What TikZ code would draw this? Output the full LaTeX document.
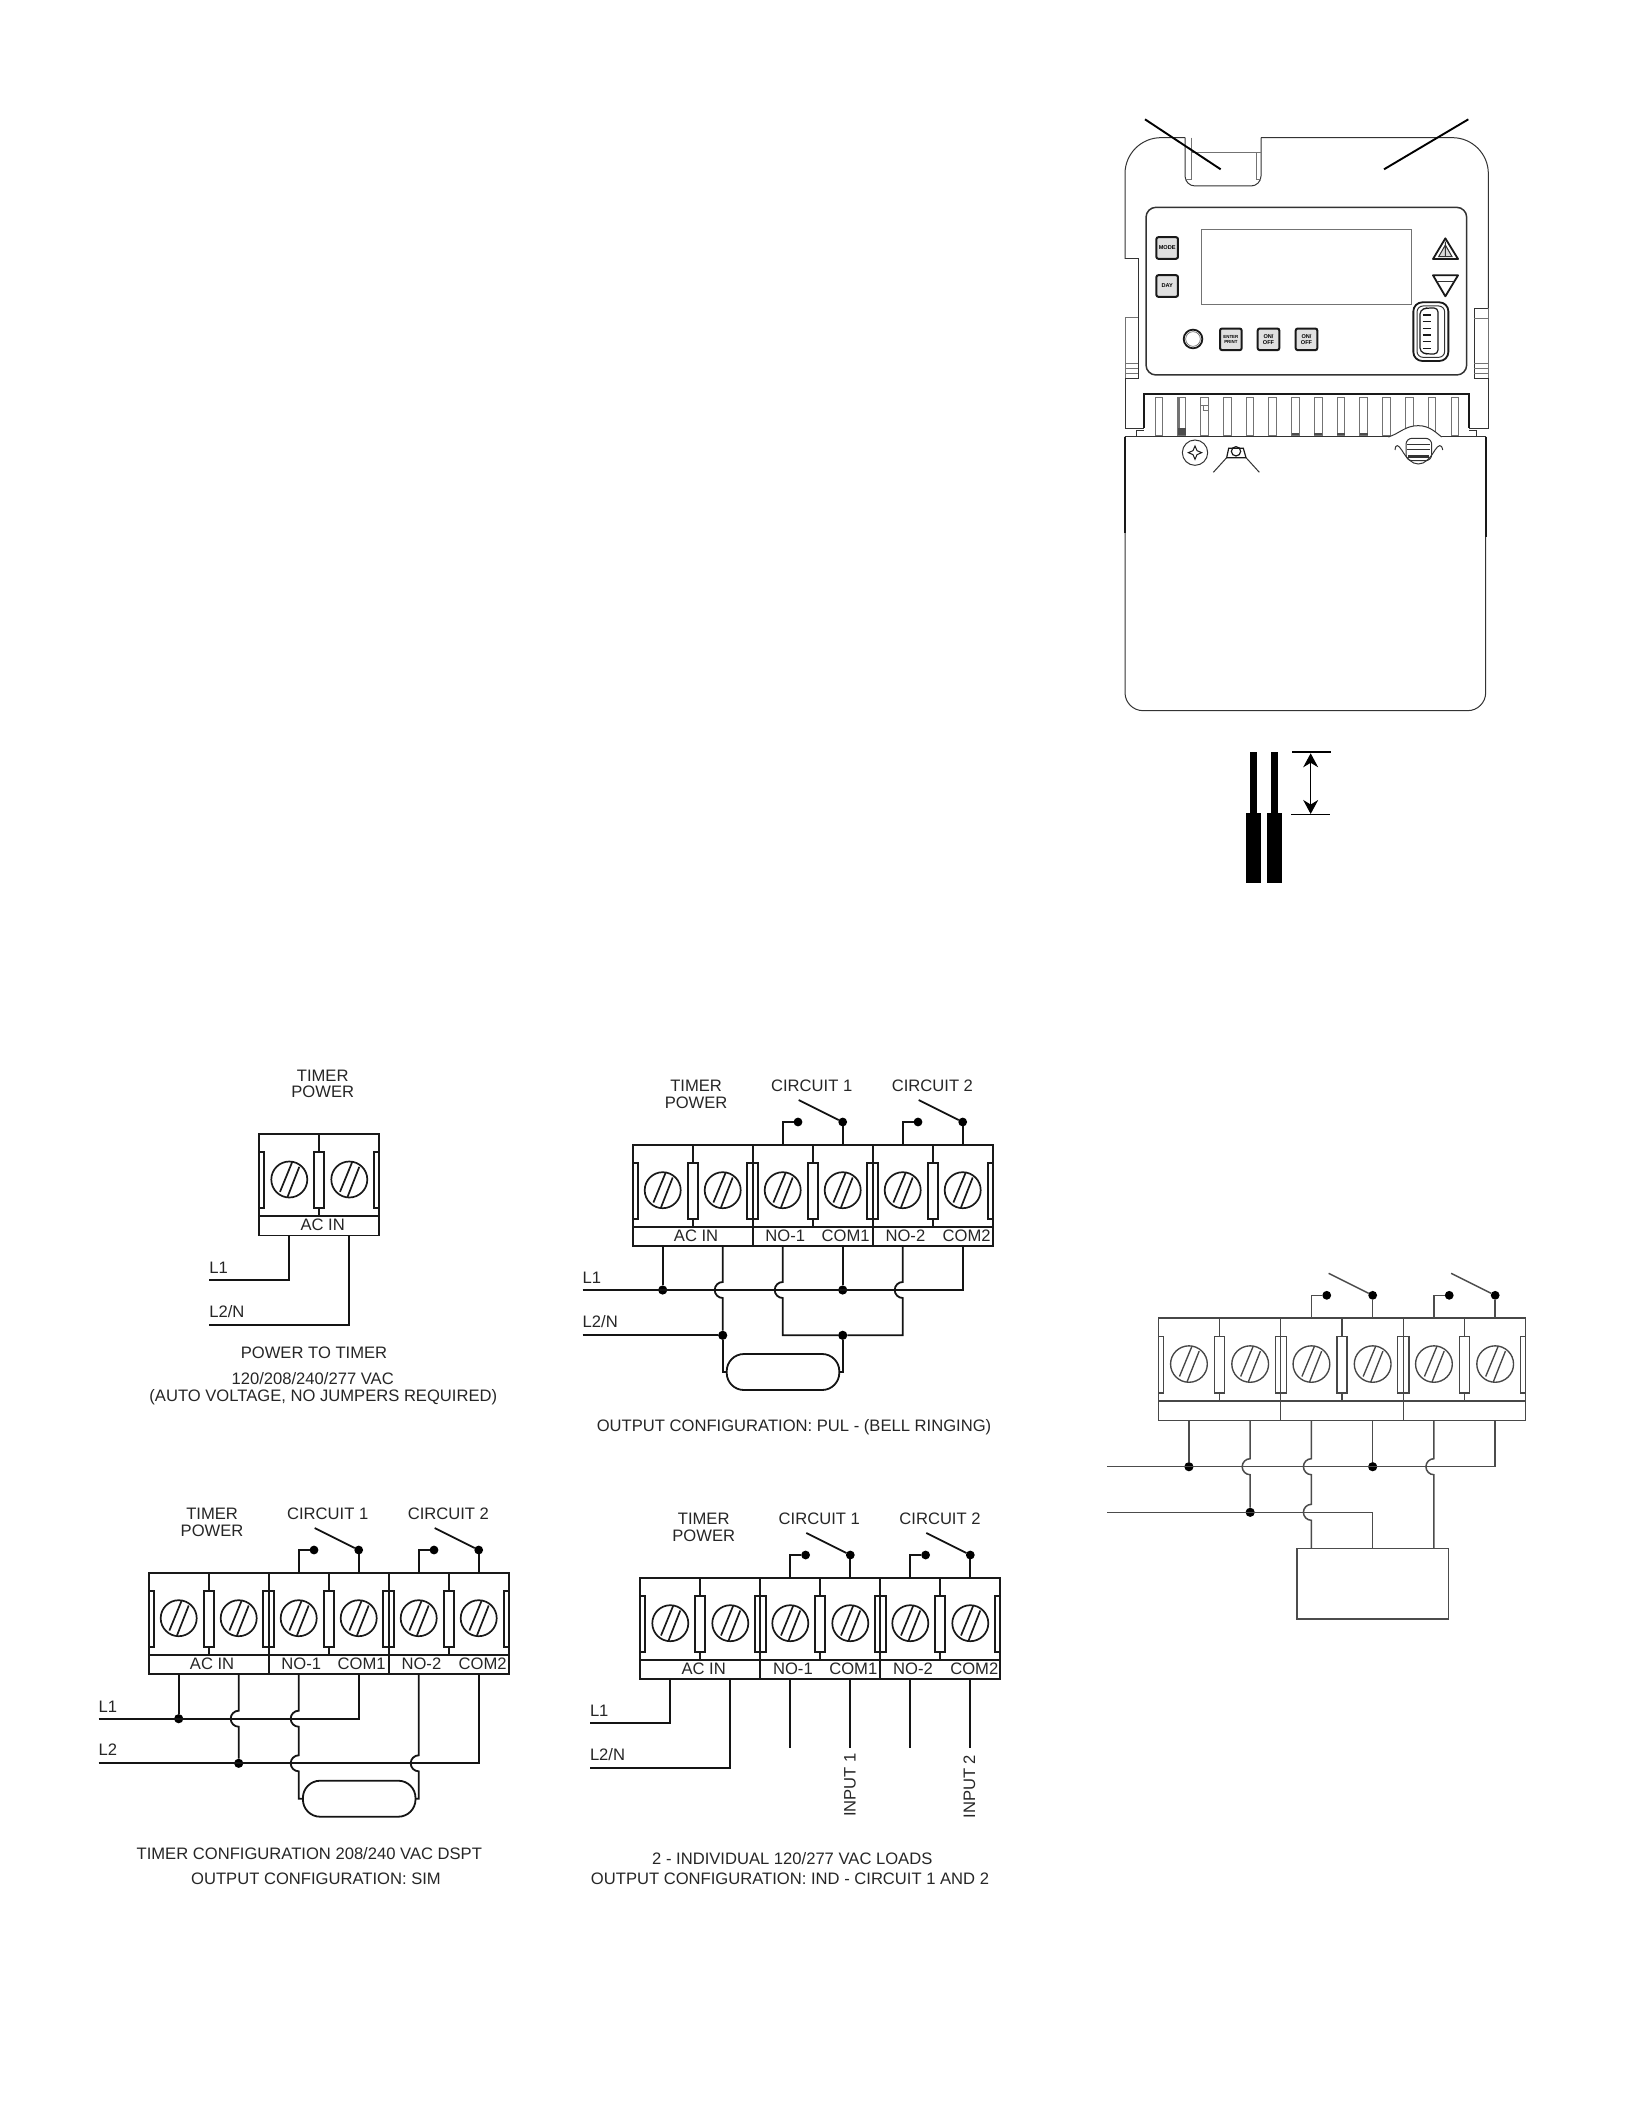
\documentclass[tikz,border=0pt]{standalone}
\usepackage{fontspec}
\setmainfont{Liberation Sans}
\usetikzlibrary{arrows.meta}
\tikzset{
  x=0.5pt,y=-0.5pt,
  lab/.style={inner sep=0pt,outer sep=0pt,text=black!85,font=\fontsize{8.3}{8.35}\selectfont,align=center},
  blk/.style={draw=black!90,line width=0.85pt},
  blkgrey/.style={draw=black!72,line width=0.68pt},
  wire/.style={draw=black!92,line width=0.9pt},
  wiregrey/.style={draw=black!70,line width=0.75pt},
  jdot/.style={circle,fill=black,draw=none,minimum size=4.6pt,inner sep=0pt,outer sep=0pt},
  sdot/.style={circle,fill=black,draw=none,minimum size=4.4pt,inner sep=0pt,outer sep=0pt},
  loadoval/.style={draw=black!92,line width=0.9pt,rounded corners=8.6pt,minimum width=56.3pt,minimum height=18pt,inner sep=0pt,outer sep=0pt},
  hop/.style={insert path={-- ([yshift=4pt]#1) arc[start angle=90,delta angle=180,radius=4pt]}},
  dev/.style={draw=black!80,line width=0.5pt},
  devthin/.style={draw=black!55,line width=0.35pt},
  devthick/.style={draw=black!90,line width=0.9pt},
  leader/.style={draw=black,line width=0.95pt},
  btn/.style={draw=black!90,line width=1pt,fill=black!12,rounded corners=1pt,minimum size=10.8pt,inner sep=0pt,align=center,font=\fontsize{2.8}{2.9}\selectfont\bfseries,text=black},
}
\newcommand\tblock[6]{%
\begin{scope}[shift={(#2,#3)},#5,every path/.append style={#6}]
  \pgfmathsetmacro\bw{120*#4}
  \draw (0,0) rectangle (\bw,101.5);
  \draw (0,82) -- (\bw,82);
  \draw (0,18) rectangle (5,74);
  \draw (\bw-5,18) rectangle (\bw,74);
  \foreach \m in {1,...,#4} {
    \pgfmathsetmacro\mx{120*(\m-1)}
    \pgfmathtruncatemacro\ka{2*\m-1}
    \pgfmathtruncatemacro\kb{2*\m}
    \draw (\mx+60,0) -- (\mx+60,18);
    \draw (\mx+60,74) -- (\mx+60,82);
    \draw (\mx+55,18) rectangle (\mx+65,74);
    \foreach \off/\kk in {30/\ka,90/\kb} {
      \draw (\mx+\off,45.5) circle (18);
      \draw (\mx+\off-9.3,57.8) -- (\mx+\off+3,27.8);
      \draw (\mx+\off-2,63.5) -- (\mx+\off+10,32.8);
      \coordinate (#1-t\kk) at (\mx+\off,101.5);
      \coordinate (#1-u\kk) at (\mx+\off,0);
    }
    \ifnum\m>1
      \draw (\mx,0) -- (\mx,101.5);
      \draw (\mx-5.5,18) rectangle (\mx+5.5,74);
    \fi
  }
\end{scope}}
% switch: name, module number, NO index, COM index
\newcommand\swpair[5]{%
  \node[sdot] (#1-nd#2) at ([shift={(15.3,-22.7)}]#1-u#3) {};
  \node[sdot] (#1-cd#2) at ([shift={(0,-22.7)}]#1-u#4) {};
  \coordinate (#1-arm#2) at ([shift={(-44,-22)}]#1-cd#2);
  \draw[#5] (#1-u#3) |- (#1-nd#2);
  \draw[#5] (#1-u#4) -- (#1-cd#2);
  \draw[#5] (#1-cd#2) -- (#1-arm#2);
}
\newcommand\blabelsfull[3]{%
  \node[lab] (#1-tp) at (#2+63.4,#3-50) {TIMER\\POWER};
  \node[lab] (#1-c1) at (#2+179,#3-59) {CIRCUIT 1};
  \node[lab] (#1-c2) at (#2+299.7,#3-59) {CIRCUIT 2};
  \node[lab] (#1-ac) at (#2+63.4,#3+91) {AC IN};
  \node[lab] (#1-no1) at (#2+152.6,#3+91) {NO-1};
  \node[lab] (#1-com1) at (#2+213,#3+91) {COM1};
  \node[lab] (#1-no2) at (#2+272.7,#3+91) {NO-2};
  \node[lab] (#1-com2) at (#2+334,#3+91) {COM2};
}
\begin{document}
\begin{tikzpicture}
\useasboundingbox (0,0) rectangle (1632,2112);
\fill[white] (0,0) rectangle (1632,2112);

%%%%%%%%%%%%%%%% timer device
\begin{scope}[shift={(1090,100)},scale=1/3]
  % body outline
  \draw[dev,rounded corners=18pt] (105,477) -- (105,113) -- (285,113);
  \draw[dev,rounded corners=18pt] (513,113) -- (1195,113) -- (1195,625);
  \draw[dev] (105,477) -- (145,477) -- (145,835) -- (105,835) -- (105,985) -- (162,985);
  \draw[dev] (1195,625) -- (1153,625) -- (1153,835) -- (1195,835) -- (1195,985) -- (1138,985);
  \draw[devthin] (105,652) -- (145,652) (105,652) -- (105,835) (105,790) -- (145,790) (105,805) -- (145,805) (105,820) -- (145,820);
  \draw[devthin] (1153,655) -- (1195,655) (1195,625) -- (1195,835) (1153,790) -- (1195,790) (1153,805) -- (1195,805) (1153,820) -- (1195,820);
  % top notch
  \draw[dev,rounded corners=5pt] (285,113) -- (285,258) -- (513,258) -- (513,113);
  \draw[devthin] (303,113) -- (303,157) -- (513,157);
  \draw[devthin] (498,157) -- (498,237) -- (513,237);
  \draw[devthin] (285,237) -- (303,237) -- (303,157);
  % face panel
  \draw[dev,line width=0.75pt,rounded corners=5pt] (168,322) rectangle (1130,825);
  \draw[devthin] (335,388) rectangle (963,613);
  \node[btn] (bmode) at (231.5,444) {MODE};
  \node[btn] (bday) at (231.5,558) {DAY};
  \node[btn,font=\fontsize{2.2}{2.4}\selectfont\bfseries] (benter) at (422.5,718) {ENTER\\PRINT};
  \node[btn] (bon1) at (535.5,718) {ON/\\OFF};
  \node[btn] (bon2) at (649.5,718) {ON/\\OFF};
  \draw[devthick] (309,717) circle (28);
  \draw[devthin] (309,717) circle (22);
  % arrows
  \draw[devthick,line join=round] (1066,415) -- (1104,477) -- (1029,477) -- cycle;
  \fill[black!15] (1066,435) -- (1086,470) -- (1046,470) -- cycle;
  \draw[dev] (1066,435) -- (1086,470) -- (1046,470) -- cycle (1066,425) -- (1066,470);
  \draw[devthick,line join=round] (1029,526) -- (1104,526) -- (1066,589) -- cycle;
  \draw[dev] (1042,545) -- (1090,545);
  % port
  \draw[devthick,rounded corners=4.5pt] (970,607) rectangle (1075,783);
  \draw[dev,rounded corners=3pt] (981,618) rectangle (1064,772);
  \draw[devthick,line width=0.6pt,rounded corners=2pt] (990,630) -- (1010,624) -- (1044,624) -- (1044,762) -- (1010,762) -- (990,756) -- cycle;
  \foreach \yy in {645,665,685,705,725,745} \draw[devthick,line width=0.6pt] (998,\yy) -- (1022,\yy);
  % terminal window
  \draw[devthick] (162,985) -- (162,882) -- (1138,882) -- (1138,985);
  \draw[dev] (140,1008) -- (140,993) -- (162,993) (1138,993) -- (1160,993) -- (1160,1008);
  \foreach \i in {0,...,13} {
    \draw[devthin,line width=0.45pt] (195+68.3*\i,892) rectangle (218+68.3*\i,1005);
  }
  \fill[black!55] (265,892) rectangle (271,1005);
  \fill[black!70] (265,985) rectangle (287,1005);
  \draw[devthin] (332,917) -- (353,917) (340,917) -- (340,930) -- (353,930);
  \foreach \i in {6,7,8,9} \fill[black!70] (195+68.3*\i,998) rectangle (218+68.3*\i,1005);
  % cover
  \draw[dev] (105,1010) -- (1187,1010);
  \draw[dev,rounded corners=9pt] (105,1010) -- (105,1832) -- (1187,1832) -- (1187,1010);
  \draw[devthick] (105,1010) -- (105,1300);
  \draw[devthick] (1187,1010) -- (1187,1310);
  % screw
  \draw[dev] (315,1058) circle (38);
  \draw[devthick,line width=0.5pt] (315,1038) -- (321,1052) -- (335,1058) -- (321,1064) -- (315,1078) -- (309,1064) -- (295,1058) -- (309,1052) -- cycle;
  % clip
  \draw[devthick,line width=0.6pt,fill=white] (410,1073) -- (416,1045) -- (460,1045) -- (468,1073) -- cycle;
  \draw[devthick,line width=0.6pt] (438,1054) circle (14);
  \draw[dev] (370,1117) -- (410,1073) (508,1117) -- (468,1073);
  % latch
  \draw[dev,fill=white] (895,1011) .. controls (930,1000) and (945,977) .. (985,977) .. controls (1020,977) and (1040,1000) .. (1055,1011);
  \draw[dev] (915,1050) .. controls (917,1030) and (925,1035) .. (935,1050) .. controls (950,1075) and (965,1092) .. (985,1092) .. controls (1005,1092) and (1020,1075) .. (1035,1050) .. controls (1045,1035) and (1055,1030) .. (1058,1050);
  \draw[dev,rounded corners=3pt] (948,1015) rectangle (1025,1082);
  \draw[dev] (952,1035) -- (1020,1035) (952,1048) -- (1020,1048);
  \fill[black!80] (955,1064) rectangle (1018,1074);
  % leaders
  \coordinate (lead-a1) at (165,58); \coordinate (lead-a2) at (392,208);
  \coordinate (lead-b1) at (1135,58); \coordinate (lead-b2) at (882,208);
  \draw[leader] (lead-a1) -- (lead-a2);
  \draw[leader] (lead-b1) -- (lead-b2);
  % stripped wires
  \fill[black] (480,1955) rectangle (500,2140);
  \fill[black] (544,1955) rectangle (564,2140);
  \fill[black] (468,2140) rectangle (512,2350);
  \fill[black] (532,2140) rectangle (576,2350);
  \coordinate (dim-a1) at (607,1955); \coordinate (dim-a2) at (724,1955);
  \coordinate (dim-b1) at (604,2144); \coordinate (dim-b2) at (720,2144);
  \draw[black,line width=1pt] (dim-a1) -- (dim-a2);
  \draw[black,line width=0.5pt] (dim-b1) -- (dim-b2);
  \coordinate (dim-t) at (662,1960); \coordinate (dim-u) at (662,2142);
  \draw[black,line width=0.5pt,{Stealth[length=7pt,width=7.5pt]}-{Stealth[length=7pt,width=7.5pt]}] (dim-t) -- (dim-u);
\end{scope}

%%%%%%%%%%%%%%%% power to timer
\tblock{pw}{259.3}{1134}{1}{xscale=1,yscale=1}{blk}
\node[lab] (pw-tp) at (322.7,1084) {TIMER\\POWER};
\node[lab] (pw-ac) at (322.7,1225) {AC IN};
\coordinate (pw-L1) at (209.3,1280);
\coordinate (pw-L2) at (209.3,1325);
\node[lab,anchor=west] (pw-l1t) at ([yshift=6.2pt]pw-L1) {L1};
\node[lab,anchor=west] (pw-l2t) at ([yshift=6.8pt]pw-L2) {L2/N};
\draw[wire] (pw-L1) -| (pw-t1);
\draw[wire] (pw-L2) -| (pw-t2);
\node[lab] (pw-cap1) at (314,1352.7) {POWER TO TIMER};
\node[lab] (pw-cap2) at (312.7,1379) {120/208/240/277 VAC};
\node[lab] (pw-cap3) at (323.3,1397.3) {(AUTO VOLTAGE, NO JUMPERS REQUIRED)};

%%%%%%%%%%%%%%%% PUL
\tblock{pu}{632.7}{1144.7}{3}{xscale=1,yscale=1}{blk}
\blabelsfull{pu}{632.7}{1144.7}
\swpair{pu}{1}{3}{4}{wire}
\swpair{pu}{2}{5}{6}{wire}
\coordinate (pu-L1) at (582.7,1290);
\coordinate (pu-L2) at (582.7,1335.3);
\node[lab,anchor=west] (pu-l1t) at ([yshift=6.2pt]pu-L1) {L1};
\node[lab,anchor=west] (pu-l2t) at ([yshift=6.8pt]pu-L2) {L2/N};
\node[jdot] (pu-j1) at (pu-t1 |- pu-L1) {};
\node[jdot] (pu-j2) at (pu-t4 |- pu-L1) {};
\node[jdot] (pu-j3) at (pu-t2 |- pu-L2) {};
\node[jdot] (pu-j4) at (pu-t4 |- pu-L2) {};
\coordinate (pu-h1) at (pu-t2 |- pu-L1);
\coordinate (pu-h2) at (pu-t3 |- pu-L1);
\coordinate (pu-h3) at (pu-t5 |- pu-L1);
\node[loadoval] (pu-load) at (783,1372) {};
\draw[wire] (pu-L1) -| (pu-t6);
\draw[wire] (pu-t1) -- (pu-j1);
\draw[wire] (pu-t4) -- (pu-j2);
\draw[wire] (pu-L2) -- (pu-j3);
\draw[wire] (pu-t2) [hop=pu-h1] -- (pu-j3);
\draw[wire] (pu-t3) [hop=pu-h2] |- (pu-j4);
\draw[wire] (pu-t5) [hop=pu-h3] |- (pu-j4);
\draw[wire] (pu-j3) |- (pu-load.west);
\draw[wire] (pu-j4) |- (pu-load.east);
\node[lab] (pu-cap) at (794,1427.3) {OUTPUT CONFIGURATION: PUL - (BELL RINGING)};

%%%%%%%%%%%%%%%% SIM
\tblock{si}{148.7}{1572.7}{3}{xscale=1,yscale=1}{blk}
\blabelsfull{si}{148.7}{1572.7}
\swpair{si}{1}{3}{4}{wire}
\swpair{si}{2}{5}{6}{wire}
\coordinate (si-L1) at (98.7,1718.7);
\coordinate (si-L2) at (98.7,1763.3);
\node[lab,anchor=west] (si-l1t) at ([yshift=6.2pt]si-L1) {L1};
\node[lab,anchor=west] (si-l2t) at ([yshift=6.8pt]si-L2) {L2};
\node[jdot] (si-j1) at (si-t1 |- si-L1) {};
\node[jdot] (si-j2) at (si-t2 |- si-L2) {};
\coordinate (si-h1) at (si-t2 |- si-L1);
\coordinate (si-h2) at (si-t3 |- si-L1);
\coordinate (si-h3) at (si-t3 |- si-L2);
\coordinate (si-h4) at (si-t5 |- si-L2);
\node[loadoval] (si-load) at (359.2,1798.7) {};
\draw[wire] (si-L1) -| (si-t4);
\draw[wire] (si-L2) -| (si-t6);
\draw[wire] (si-t1) -- (si-j1);
\draw[wire] (si-t2) [hop=si-h1] -- (si-j2);
\draw[wire] (si-t3) [hop=si-h2] [hop=si-h3] |- (si-load.west);
\draw[wire] (si-t5) [hop=si-h4] |- (si-load.east);
\node[lab] (si-cap1) at (309.3,1853.3) {TIMER CONFIGURATION 208/240 VAC DSPT};
\node[lab] (si-cap2) at (316,1878.5) {OUTPUT CONFIGURATION: SIM};

%%%%%%%%%%%%%%%% IND
\tblock{in}{640.3}{1577.7}{3}{xscale=1,yscale=1}{blk}
\blabelsfull{in}{640.3}{1577.7}
\swpair{in}{1}{3}{4}{wire}
\swpair{in}{2}{5}{6}{wire}
\coordinate (in-L1) at (590,1723.3);
\coordinate (in-L2) at (590,1768);
\node[lab,anchor=west] (in-l1t) at ([yshift=6.2pt]in-L1) {L1};
\node[lab,anchor=west] (in-l2t) at ([yshift=6.8pt]in-L2) {L2/N};
\draw[wire] (in-L1) -| (in-t1);
\draw[wire] (in-L2) -| (in-t2);
\foreach \k in {3,4,5,6} {
  \coordinate (in-e\k) at ([yshift=-34.5pt]in-t\k);
  \draw[wire] (in-t\k) -- (in-e\k);
}
\node[lab,rotate=90] (in-i1) at (850,1785) {INPUT 1};
\node[lab,rotate=90] (in-i2) at (969.3,1786.7) {INPUT 2};
\node[lab] (in-cap1) at (792.3,1859) {2 - INDIVIDUAL 120/277 VAC LOADS};
\node[lab] (in-cap2) at (790,1878.3) {OUTPUT CONFIGURATION: IND - CIRCUIT 1 AND 2};

%%%%%%%%%%%%%%%% right block
\tblock{rb}{1158.3}{1318}{3}{xscale=1.0208,yscale=1.012}{blkgrey}
\swpair{rb}{1}{3}{4}{wiregrey}
\swpair{rb}{2}{5}{6}{wiregrey}
\coordinate (rb-L1) at (1107.3,1466.7);
\coordinate (rb-L2) at (1107.3,1512.3);
\node[jdot] (rb-j1) at (rb-t1 |- rb-L1) {};
\node[jdot] (rb-j2) at (rb-t4 |- rb-L1) {};
\node[jdot] (rb-j3) at (rb-t2 |- rb-L2) {};
\coordinate (rb-h1) at (rb-t2 |- rb-L1);
\coordinate (rb-h2) at (rb-t3 |- rb-L1);
\coordinate (rb-h3) at (rb-t5 |- rb-L1);
\coordinate (rb-h4) at (rb-t3 |- rb-L2);
\node[draw=black!70,line width=0.75pt,minimum width=75.8pt,minimum height=35.3pt,inner sep=0pt,outer sep=0pt] (rb-load) at (1372.9,1583.6) {};
\draw[wiregrey] (rb-L1) -| (rb-t6);
\draw[wiregrey] (rb-t1) -- (rb-j1);
\draw[wiregrey] (rb-t4) -- (rb-j2);
\draw[wiregrey] (rb-L2) -| (rb-t4 |- rb-load.north);
\draw[wiregrey] (rb-t2) [hop=rb-h1] -- (rb-j3);
\draw[wiregrey] (rb-t3) [hop=rb-h2] [hop=rb-h4] -- (rb-t3 |- rb-load.north);
\draw[wiregrey] (rb-t5) [hop=rb-h3] -- (rb-t5 |- rb-load.north);
\end{tikzpicture}
\end{document}
